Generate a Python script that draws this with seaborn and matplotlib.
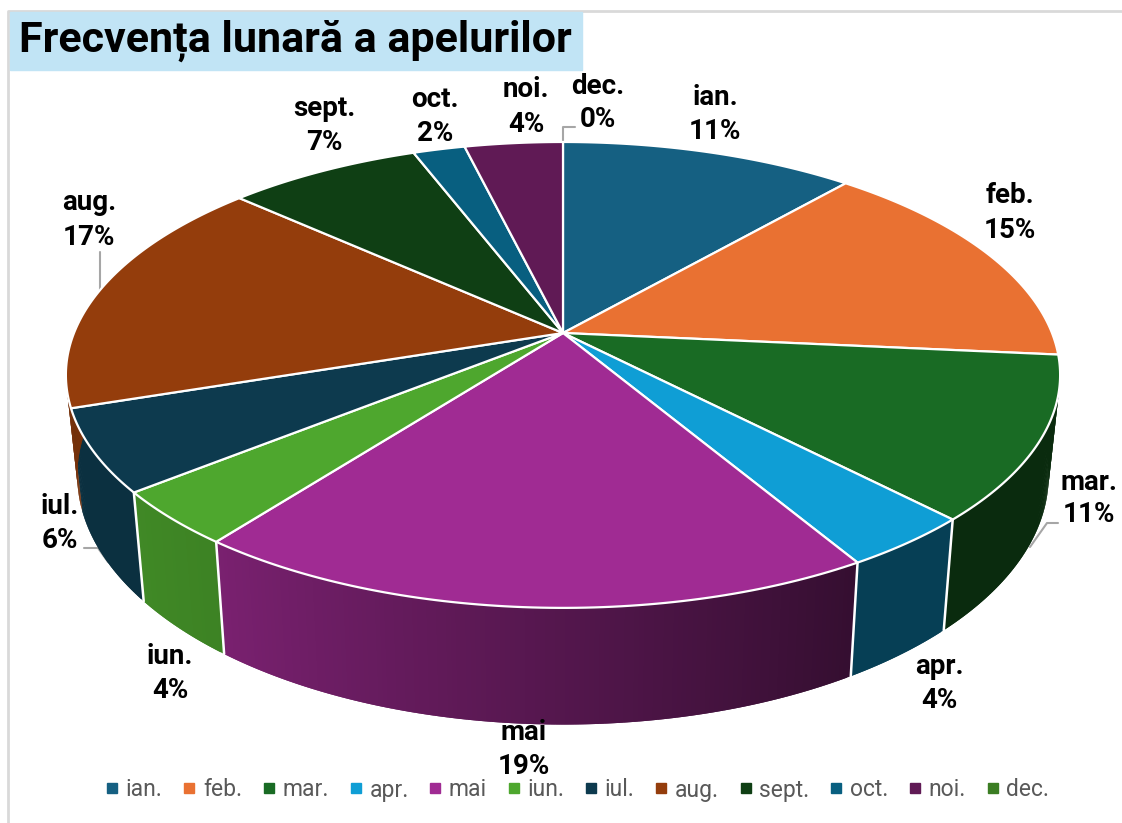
"""
Frecventa lunara a apelurilor - pie 3D in stil Excel
Output: out.png
"""
import matplotlib
matplotlib.use('Agg')
import matplotlib.pyplot as plt
import seaborn as sns
import numpy as np
from matplotlib.lines import Line2D
from matplotlib.patches import Rectangle

luni = ['ian.', 'feb.', 'mar.', 'apr.', 'mai', 'iun.', 'iul.', 'aug.', 'sept.', 'oct.', 'noi.', 'dec.']
valori = [11.4, 15.1, 11.3, 3.7, 18.9, 3.8, 5.7, 16.8, 7.49, 2.01, 3.8, 0.0]
etichete = ['11%', '15%', '11%', '4%', '19%', '4%', '6%', '17%', '7%', '2%', '4%', '0%']
culori = ['#156082', '#E97132', '#196B24', '#0F9ED5', '#A02B93', '#4EA72E',
          '#0D3A4E', '#943D0C', '#0F3F14', '#085F80', '#601A55', '#3B7D23']
# umbrire pe peretele lateral (stanga, dreapta)
umbre = [(.5, .5), (.45, .45), (.4, .4), (.4, .4), (.76, .33), (.82, .78),
         (.82, .82), (.8, .8), (.6, .6), (.6, .6), (.6, .6), (.6, .6)]
# pozitia etichetelor (pixeli)
pos_luna = [(715, 96), (1010, 194), (1089, 481), (939, 666), (524, 731), (170, 656),
            (60, 506), (89, 201), (324, 107), (435, 98), (526, 88), (598, 85)]
pos_pct = [(715, 130), (1010, 229), (1089, 514), (939, 699), (524, 765), (170, 690),
           (60, 540), (89, 236), (324, 141), (435, 132), (526, 123), (598, 118)]

sns.set_theme(style='white')
plt.rcParams['font.family'] = ['Roboto', 'DejaVu Sans']
paleta = sns.color_palette(culori)

CX, CY, A, B, K = 563, 333, 489, 225.4, 0.18


def proj(t):
    # perspectiva simpla; t = unghi de la verticala, sens orar
    X, Y = np.sin(t), np.cos(t)
    w = 1 + K * Y
    return CX + A * X / w, CY - B * Y / w


def jos(sx, sy):
    return CX + 0.977 * (sx - CX), CY + 1.068 * (sy - CY) + 98


fig = plt.figure(figsize=(11.22, 8.23), dpi=100, facecolor='white')
ax = fig.add_axes([0, 0, 1, 1])
ax.set_xlim(0, 1122)
ax.set_ylim(823, 0)
ax.axis('off')

# cadru + titlu
ax.plot([8.5, 8.5, 1122], [823, 10.5, 10.5], color='#D9D9D9', lw=2, zorder=1)
ax.add_patch(Rectangle((10, 12), 572, 58, color='#C1E4F5', zorder=2))
ax.text(19, 41, 'Frecvența lunară a apelurilor', fontsize=31, fontweight='bold',
        color='black', va='center', ha='left', zorder=3)

# linii de legatura
gri = '#A6A6A6'
ax.plot([563, 563, 575], [142, 127, 127], color=gri, lw=1.5, zorder=3)
ax.plot([1030, 1047, 1058], [547, 523, 523], color=gri, lw=1.5, zorder=3)
ax.plot([84, 98, 108], [548, 548, 562], color=gri, lw=1.5, zorder=3)
ax.plot([100, 100], [252, 292], color=gri, lw=1.5, zorder=3)

limite = np.cumsum([0] + valori) / sum(valori) * 2 * np.pi

# peretele lateral
for i, c in enumerate(paleta):
    t0, t1 = limite[i], limite[i + 1]
    if t1 <= t0:
        continue
    pasi = np.linspace(t0, t1, max(3, int((t1 - t0) * 120)))
    for j in range(len(pasi) - 1):
        if np.cos(pasi[j]) > 0.05 and np.cos(pasi[j + 1]) > 0.05:
            continue
        f = j / max(1, len(pasi) - 2)
        # sens orar, deci capatul din dreapta e primul
        u = umbre[i][1] + (umbre[i][0] - umbre[i][1]) * f
        col = tuple(np.array(c) * u)
        # suprapunere cu pasul urmator ca sa nu apara dungi
        x0, y0 = proj(pasi[j])
        x1, y1 = proj(pasi[min(j + 2, len(pasi) - 1)])
        x2, y2 = jos(x1, y1)
        x3, y3 = jos(x0, y0)
        ax.fill([x0, x1, x2, x3], [y0, y1, y2, y3], color=col, lw=0, zorder=4)

# muchii albe pe perete
for t in limite[:-1]:
    X, Y = np.sin(t), np.cos(t)
    if Y < 0 and abs(X) < 0.9:
        x0, y0 = proj(t)
        x1, y1 = jos(x0, y0)
        ax.plot([x0, x1], [y0, y1], color='white', lw=1.8, zorder=5)

# fata de sus
for i, c in enumerate(paleta):
    t0, t1 = limite[i], limite[i + 1]
    if t1 <= t0:
        continue
    tt = np.linspace(t0, t1, 80)
    xs, ys = proj(tt)
    ax.fill(np.r_[CX, xs], np.r_[CY, ys], facecolor=c, edgecolor='white', lw=1.6,
            joinstyle='round', zorder=6)

# etichete
for nume, pct, p1, p2 in zip(luni, etichete, pos_luna, pos_pct):
    ax.text(p1[0], p1[1] + 1, nume, fontsize=20, fontweight='bold', color='black',
            ha='center', va='center', zorder=8)
    ax.text(p2[0], p2[1] + 1, pct, fontsize=20, fontweight='bold', color='black',
            ha='center', va='center', zorder=8)

# legenda
handles = [Line2D([], [], marker='s', ls='', color=c, markersize=6.5) for c in paleta]
fig.legend(handles, luni, ncol=12, loc='center', bbox_to_anchor=(575 / 1122, 1 - 790 / 823),
           frameon=False, fontsize=16.5, labelcolor='#595959', handletextpad=0.1,
           columnspacing=0.66, handlelength=1.0)

plt.savefig('out.png', dpi=100, facecolor='white')
plt.close()
